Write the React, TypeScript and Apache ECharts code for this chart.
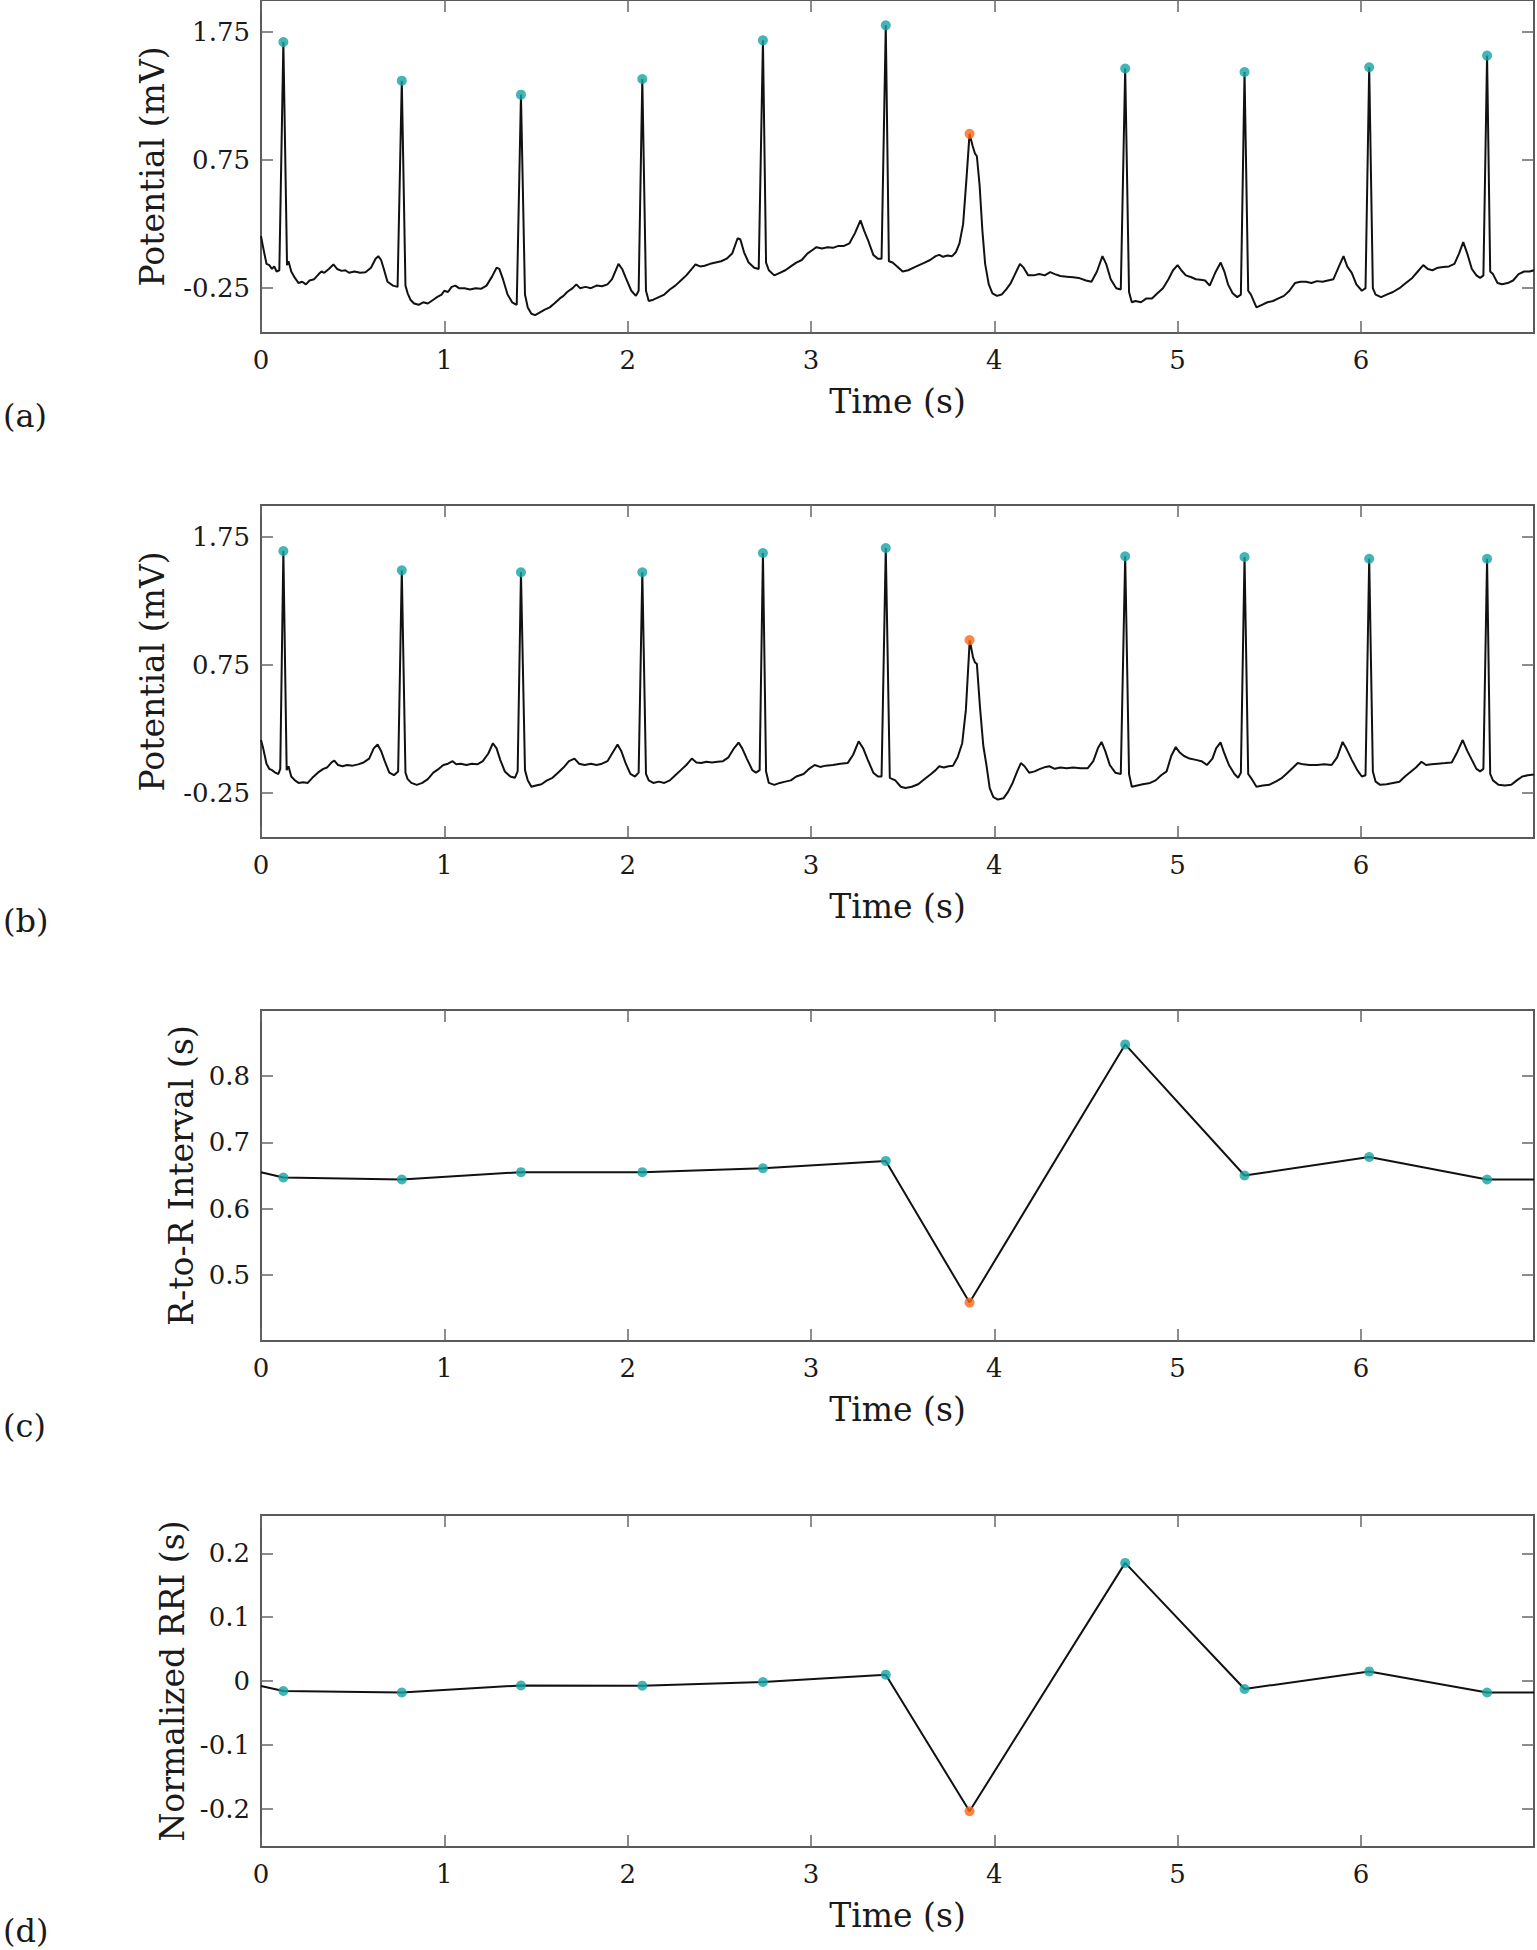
import React, { useEffect, useRef } from "react";
import * as echarts from "echarts";

// ---------- data ----------
const X_MAX = 6.944; // 2500 samples @ 360 Hz
const xTicks = [0, 1, 2, 3, 4, 5, 6];

// R-peak times (s); index 6 is the ectopic (orange) beat
const rTimes = [0.122, 0.768, 1.418, 2.08, 2.738, 3.408, 3.865, 4.714, 5.365, 6.045, 6.688];
const ectopicIdx = [6];

// R-peak amplitudes (mV)
const peaksA = [1.672, 1.37, 1.261, 1.383, 1.685, 1.802, 0.955, 1.465, 1.438, 1.475, 1.566];
const peaksB = [1.641, 1.49, 1.475, 1.475, 1.625, 1.664, 0.945, 1.6, 1.594, 1.58, 1.58];

// R-to-R intervals (s)
const rri = [0.647, 0.644, 0.655, 0.655, 0.661, 0.672, 0.458, 0.848, 0.65, 0.678, 0.644];
const rriStart = 0.655;
const rriEnd = 0.644;

// normalized RRI (s)
const nrri = [-0.0156, -0.018, -0.007, -0.0073, -0.0016, 0.0099, -0.204, 0.185, -0.0125, 0.015, -0.018];
const nrriStart = -0.0078;
const nrriEnd = -0.018;

// y tick values
const yTicksA = [-0.25, 0.75, 1.75];
const yTicksC = [0.5, 0.6, 0.7, 0.8];
const yTicksD = [-0.2, -0.1, 0, 0.1, 0.2];

// raw ECG (a) [time s, mV]
const ecgA: [number, number][] = [
  [0.0, 0.156], [0.01, 0.08], [0.03, -0.06], [0.045, -0.07], [0.06, -0.1], [0.072, -0.08], [0.085, -0.12], [0.1, -0.11],
  [0.122, 1.672], [0.142, -0.07], [0.15, -0.04], [0.165, -0.12], [0.185, -0.17], [0.205, -0.21], [0.225, -0.2], [0.245, -0.22],
  [0.265, -0.19], [0.29, -0.18], [0.315, -0.14], [0.33, -0.12], [0.345, -0.13], [0.37, -0.1], [0.395, -0.065], [0.415, -0.1],
  [0.44, -0.115], [0.46, -0.11], [0.48, -0.13], [0.51, -0.12], [0.54, -0.13], [0.57, -0.125], [0.6, -0.09], [0.625, -0.02],
  [0.64, 0.0], [0.655, -0.03], [0.67, -0.1], [0.69, -0.2], [0.72, -0.23], [0.745, -0.24],
  [0.768, 1.37], [0.788, -0.23], [0.8, -0.29], [0.815, -0.34], [0.835, -0.37], [0.86, -0.38], [0.885, -0.36], [0.91, -0.37],
  [0.94, -0.34], [0.96, -0.32], [0.985, -0.3], [1.0, -0.27], [1.02, -0.28], [1.04, -0.24], [1.06, -0.23], [1.08, -0.25],
  [1.11, -0.25], [1.14, -0.26], [1.17, -0.25], [1.2, -0.255], [1.23, -0.23], [1.26, -0.16], [1.285, -0.09], [1.3, -0.1],
  [1.32, -0.18], [1.345, -0.3], [1.37, -0.36], [1.395, -0.38],
  [1.418, 1.261], [1.44, -0.3], [1.455, -0.4], [1.475, -0.45], [1.495, -0.46], [1.52, -0.44], [1.545, -0.42], [1.575, -0.4],
  [1.6, -0.37], [1.63, -0.33], [1.65, -0.31], [1.67, -0.28], [1.7, -0.25], [1.72, -0.22], [1.74, -0.25], [1.77, -0.24],
  [1.8, -0.25], [1.83, -0.23], [1.86, -0.235], [1.89, -0.22], [1.915, -0.18], [1.95, -0.06], [1.97, -0.1], [1.99, -0.17],
  [2.02, -0.27], [2.045, -0.31], [2.06, -0.27],
  [2.08, 1.383], [2.1, -0.27], [2.115, -0.35], [2.14, -0.34], [2.17, -0.32], [2.2, -0.3], [2.23, -0.26], [2.26, -0.23],
  [2.29, -0.19], [2.32, -0.15], [2.35, -0.1], [2.37, -0.065], [2.395, -0.08], [2.42, -0.075], [2.45, -0.06], [2.48, -0.05],
  [2.51, -0.04], [2.54, -0.02], [2.57, 0.02], [2.6, 0.14], [2.615, 0.13], [2.635, 0.03], [2.66, -0.05], [2.69, -0.09], [2.715, -0.1],
  [2.738, 1.685], [2.755, -0.05], [2.77, -0.11], [2.8, -0.15], [2.83, -0.13], [2.86, -0.11], [2.89, -0.08], [2.92, -0.05],
  [2.95, -0.03], [2.98, 0.02], [3.01, 0.05], [3.03, 0.07], [3.06, 0.06], [3.09, 0.07], [3.12, 0.065], [3.15, 0.08],
  [3.18, 0.08], [3.21, 0.1], [3.24, 0.18], [3.27, 0.28], [3.29, 0.2], [3.31, 0.13], [3.34, 0.01], [3.365, -0.02], [3.385, -0.02],
  [3.408, 1.802], [3.425, -0.04], [3.445, -0.05], [3.47, -0.08], [3.5, -0.12], [3.53, -0.11], [3.56, -0.09], [3.59, -0.07],
  [3.62, -0.05], [3.65, -0.03], [3.68, 0.0], [3.7, 0.01], [3.72, -0.005], [3.745, 0.005], [3.77, 0.0], [3.79, 0.03],
  [3.81, 0.1], [3.83, 0.25], [3.848, 0.6], [3.865, 0.955], [3.882, 0.86], [3.895, 0.8], [3.905, 0.78], [3.92, 0.55],
  [3.935, 0.2], [3.95, -0.06], [3.97, -0.22], [3.99, -0.29], [4.015, -0.31], [4.04, -0.3], [4.065, -0.26], [4.09, -0.21],
  [4.11, -0.15], [4.14, -0.06], [4.16, -0.09], [4.185, -0.15], [4.215, -0.15], [4.245, -0.14], [4.275, -0.15], [4.305, -0.125],
  [4.33, -0.14], [4.36, -0.155], [4.395, -0.16], [4.43, -0.165], [4.46, -0.17], [4.5, -0.19], [4.53, -0.2], [4.56, -0.12],
  [4.59, 0.0], [4.61, -0.06], [4.635, -0.18], [4.665, -0.25], [4.69, -0.26],
  [4.714, 1.465], [4.735, -0.28], [4.75, -0.36], [4.77, -0.35], [4.8, -0.36], [4.83, -0.33], [4.86, -0.33], [4.89, -0.29],
  [4.92, -0.25], [4.95, -0.18], [4.975, -0.11], [5.0, -0.07], [5.02, -0.11], [5.045, -0.15], [5.075, -0.165], [5.1, -0.18],
  [5.125, -0.185], [5.15, -0.19], [5.175, -0.23], [5.205, -0.13], [5.235, -0.05], [5.255, -0.12], [5.275, -0.22], [5.3, -0.29],
  [5.325, -0.32], [5.345, -0.3],
  [5.365, 1.438], [5.385, -0.27], [5.4, -0.3], [5.43, -0.4], [5.46, -0.38], [5.49, -0.36], [5.52, -0.35], [5.55, -0.33],
  [5.58, -0.31], [5.61, -0.27], [5.64, -0.21], [5.67, -0.2], [5.7, -0.2], [5.73, -0.21], [5.76, -0.195], [5.79, -0.2],
  [5.82, -0.19], [5.85, -0.18], [5.88, -0.08], [5.905, 0.0], [5.925, -0.08], [5.95, -0.13], [5.975, -0.22], [6.005, -0.27], [6.025, -0.25],
  [6.045, 1.475], [6.065, -0.25], [6.08, -0.3], [6.11, -0.32], [6.14, -0.3], [6.175, -0.28], [6.21, -0.25], [6.245, -0.21],
  [6.28, -0.17], [6.31, -0.12], [6.34, -0.07], [6.365, -0.1], [6.39, -0.11], [6.42, -0.09], [6.45, -0.085], [6.48, -0.08],
  [6.51, -0.06], [6.535, 0.02], [6.558, 0.11], [6.58, 0.02], [6.605, -0.1], [6.63, -0.15], [6.65, -0.17], [6.668, -0.15],
  [6.688, 1.566], [6.705, -0.12], [6.72, -0.14], [6.745, -0.21], [6.77, -0.22], [6.8, -0.21], [6.83, -0.19], [6.86, -0.14],
  [6.89, -0.12], [6.92, -0.12], [6.944, -0.11],
];

// filtered ECG (b) [time s, mV]
const ecgB: [number, number][] = [
  [0.0, 0.166], [0.012, 0.1], [0.03, -0.02], [0.045, -0.06], [0.06, -0.07], [0.078, -0.09], [0.095, -0.1], [0.105, -0.06],
  [0.122, 1.641], [0.14, -0.07], [0.15, -0.04], [0.165, -0.12], [0.185, -0.15], [0.205, -0.17], [0.23, -0.165], [0.255, -0.17],
  [0.28, -0.13], [0.31, -0.09], [0.34, -0.06], [0.36, -0.05], [0.385, -0.01], [0.4, 0.005], [0.42, -0.03], [0.445, -0.04],
  [0.47, -0.03], [0.5, -0.035], [0.53, -0.025], [0.56, -0.01], [0.59, 0.02], [0.615, 0.1], [0.636, 0.13], [0.655, 0.08],
  [0.675, 0.0], [0.7, -0.09], [0.725, -0.11], [0.748, -0.08],
  [0.768, 1.49], [0.788, -0.09], [0.8, -0.14], [0.82, -0.17], [0.85, -0.185], [0.88, -0.17], [0.91, -0.14], [0.94, -0.09],
  [0.97, -0.06], [0.995, -0.03], [1.02, -0.02], [1.045, 0.0], [1.065, -0.025], [1.09, -0.02], [1.12, -0.03], [1.15, -0.02],
  [1.18, -0.025], [1.21, 0.0], [1.24, 0.06], [1.265, 0.14], [1.285, 0.1], [1.305, 0.01], [1.33, -0.08], [1.36, -0.12],
  [1.385, -0.13], [1.4, -0.08],
  [1.418, 1.475], [1.44, -0.07], [1.455, -0.15], [1.475, -0.2], [1.5, -0.19], [1.53, -0.18], [1.56, -0.15], [1.59, -0.13],
  [1.62, -0.09], [1.65, -0.05], [1.68, 0.0], [1.71, 0.02], [1.735, -0.02], [1.765, -0.03], [1.8, -0.02], [1.83, -0.03],
  [1.86, -0.02], [1.89, 0.0], [1.915, 0.06], [1.945, 0.13], [1.965, 0.08], [1.99, -0.02], [2.015, -0.1], [2.04, -0.12], [2.06, -0.09],
  [2.08, 1.475], [2.1, -0.1], [2.115, -0.15], [2.14, -0.17], [2.17, -0.16], [2.2, -0.17], [2.23, -0.15], [2.26, -0.11],
  [2.29, -0.07], [2.32, -0.03], [2.35, 0.02], [2.375, -0.01], [2.4, -0.015], [2.43, -0.005], [2.46, -0.01], [2.49, -0.005],
  [2.52, 0.0], [2.55, 0.03], [2.58, 0.1], [2.605, 0.145], [2.625, 0.1], [2.65, 0.02], [2.68, -0.07], [2.7, -0.09], [2.72, -0.07],
  [2.738, 1.625], [2.755, -0.08], [2.77, -0.17], [2.8, -0.185], [2.83, -0.17], [2.86, -0.16], [2.89, -0.15], [2.92, -0.12],
  [2.96, -0.1], [2.99, -0.06], [3.02, -0.03], [3.05, -0.045], [3.08, -0.035], [3.12, -0.03], [3.16, -0.02], [3.2, -0.015],
  [3.23, 0.05], [3.26, 0.155], [3.285, 0.1], [3.31, 0.01], [3.34, -0.09], [3.365, -0.12], [3.385, -0.12],
  [3.408, 1.664], [3.43, -0.13], [3.46, -0.15], [3.49, -0.2], [3.515, -0.21], [3.55, -0.2], [3.585, -0.18], [3.62, -0.14],
  [3.655, -0.1], [3.68, -0.07], [3.7, -0.04], [3.725, -0.05], [3.75, -0.04], [3.775, -0.035], [3.8, 0.03], [3.825, 0.14],
  [3.845, 0.4], [3.866, 0.945], [3.884, 0.81], [3.895, 0.77], [3.905, 0.76], [3.922, 0.42], [3.94, 0.12], [3.956, -0.02],
  [3.975, -0.21], [3.995, -0.28], [4.02, -0.3], [4.05, -0.29], [4.075, -0.24], [4.1, -0.17], [4.125, -0.08], [4.145, -0.015],
  [4.165, -0.04], [4.19, -0.09], [4.22, -0.08], [4.25, -0.06], [4.28, -0.045], [4.3, -0.04], [4.33, -0.06], [4.36, -0.05],
  [4.395, -0.055], [4.43, -0.05], [4.47, -0.055], [4.51, -0.055], [4.54, 0.0], [4.565, 0.1], [4.585, 0.15], [4.605, 0.08],
  [4.63, -0.03], [4.66, -0.09], [4.69, -0.1],
  [4.714, 1.6], [4.735, -0.1], [4.75, -0.2], [4.78, -0.19], [4.81, -0.18], [4.85, -0.17], [4.88, -0.15], [4.91, -0.11],
  [4.94, -0.08], [4.965, 0.04], [4.99, 0.11], [5.01, 0.07], [5.035, 0.04], [5.065, 0.02], [5.1, 0.01], [5.13, 0.0],
  [5.16, -0.03], [5.19, 0.02], [5.21, 0.1], [5.234, 0.146], [5.255, 0.06], [5.28, -0.03], [5.31, -0.1], [5.33, -0.13], [5.345, -0.09],
  [5.365, 1.594], [5.385, -0.1], [5.4, -0.13], [5.43, -0.2], [5.465, -0.19], [5.5, -0.185], [5.535, -0.16], [5.57, -0.13],
  [5.6, -0.09], [5.63, -0.05], [5.655, -0.015], [5.685, -0.025], [5.72, -0.03], [5.76, -0.03], [5.8, -0.025], [5.84, -0.03],
  [5.87, 0.03], [5.9, 0.15], [5.92, 0.1], [5.95, 0.01], [5.98, -0.07], [6.005, -0.12], [6.025, -0.11],
  [6.045, 1.58], [6.065, -0.08], [6.08, -0.16], [6.105, -0.185], [6.14, -0.18], [6.175, -0.17], [6.21, -0.16], [6.24, -0.12],
  [6.265, -0.09], [6.3, -0.05], [6.33, -0.005], [6.355, -0.03], [6.385, -0.025], [6.42, -0.02], [6.46, -0.015], [6.495, -0.01],
  [6.525, 0.07], [6.555, 0.165], [6.58, 0.08], [6.605, 0.01], [6.63, -0.06], [6.65, -0.08], [6.668, -0.06],
  [6.688, 1.58], [6.705, -0.1], [6.72, -0.15], [6.75, -0.185], [6.785, -0.19], [6.82, -0.185], [6.85, -0.15], [6.88, -0.12],
  [6.91, -0.11], [6.944, -0.105],
];

const panelLetters = ["(a)", "(b)", "(c)", "(d)"];
const yTitles = ["Potential (mV)", "Potential (mV)", "R-to-R Interval (s)", "Normalized RRI (s)"];
const xTitle = "Time (s)";

// ---------- styling / layout ----------
const FONT = "DejaVu Serif";
const TEAL = "#14a3a3";
const ORANGE = "#ff6616";
const FRAME = "#5a5a5a";
const TEXT = "#1a1a1a";
const GRID_LEFT = 261;
const GRID_WIDTH = 1273;
const GRID_TOPS = [0, 505, 1010, 1515];
const GRID_HEIGHTS = [333, 333, 331, 332];
const Y_NAME_GAPS = [92, 92, 60, 72];
const Y_RANGES: [number, number][] = [[-0.6, 2.0], [-0.6, 2.0], [0.4, 0.9], [-0.26, 0.26]];
const Y_TICKS = [yTicksA, yTicksA, yTicksC, yTicksD];
const Y_FMT = [
  (v: number) => v.toFixed(2),
  (v: number) => v.toFixed(2),
  (v: number) => v.toFixed(1),
  (v: number) => (Math.abs(v) < 1e-9 ? "0" : v.toFixed(1)),
];

function buildOption() {
  const grid: any[] = [];
  const xAxis: any[] = [];
  const yAxis: any[] = [];
  const series: any[] = [];
  const graphic: any[] = [];

  const tickStyle = { color: "#666", width: 1.5 };
  const noLine = { show: false, onZero: false };

  for (let i = 0; i < 4; i++) {
    grid.push({
      left: GRID_LEFT,
      width: GRID_WIDTH,
      top: GRID_TOPS[i],
      height: GRID_HEIGHTS[i],
      show: true,
      borderColor: FRAME,
      borderWidth: 2,
      backgroundColor: "transparent",
    });
    xAxis.push({
      type: "value",
      gridIndex: i,
      position: "bottom",
      min: 0,
      max: X_MAX,
      axisLine: noLine,
      splitLine: { show: false },
      axisTick: { inside: true, length: 12, lineStyle: tickStyle, customValues: xTicks },
      axisLabel: {
        customValues: xTicks,
        fontFamily: FONT,
        fontSize: 26,
        color: TEXT,
        margin: 14,
        formatter: (v: number) => String(v),
      },
      name: xTitle,
      nameLocation: "middle",
      nameGap: 52,
      nameTextStyle: { fontFamily: FONT, fontSize: 33, color: TEXT },
    });
    xAxis.push({
      type: "value",
      gridIndex: i,
      position: "top",
      min: 0,
      max: X_MAX,
      axisLine: noLine,
      splitLine: { show: false },
      axisTick: { inside: true, length: 12, lineStyle: tickStyle, customValues: xTicks },
      axisLabel: { show: false },
    });
    yAxis.push({
      type: "value",
      gridIndex: i,
      position: "left",
      min: Y_RANGES[i][0],
      max: Y_RANGES[i][1],
      axisLine: noLine,
      splitLine: { show: false },
      axisTick: { inside: true, length: 12, lineStyle: tickStyle, customValues: Y_TICKS[i] },
      axisLabel: {
        customValues: Y_TICKS[i],
        fontFamily: FONT,
        fontSize: 26,
        color: TEXT,
        margin: 11,
        formatter: Y_FMT[i],
      },
      name: yTitles[i],
      nameLocation: "middle",
      nameGap: Y_NAME_GAPS[i],
      nameRotate: 90,
      nameTextStyle: { fontFamily: FONT, fontSize: 33, color: TEXT },
    });
    yAxis.push({
      type: "value",
      gridIndex: i,
      position: "right",
      min: Y_RANGES[i][0],
      max: Y_RANGES[i][1],
      axisLine: noLine,
      splitLine: { show: false },
      axisTick: { inside: true, length: 12, lineStyle: tickStyle, customValues: Y_TICKS[i] },
      axisLabel: { show: false },
    });

    graphic.push({
      type: "text",
      x: 3,
      y: GRID_TOPS[i] + 416,
      style: {
        text: panelLetters[i],
        fontFamily: FONT,
        fontSize: 32,
        fill: TEXT,
        align: "left",
        verticalAlign: "middle",
      },
    });
  }

  const lineStyle = { color: "#111", width: 2 };
  const traces: [number, number][][] = [
    ecgA,
    ecgB,
    [[0, rriStart], ...rTimes.map((t, k) => [t, rri[k]] as [number, number]), [X_MAX, rriEnd]],
    [[0, nrriStart], ...rTimes.map((t, k) => [t, nrri[k]] as [number, number]), [X_MAX, nrriEnd]],
  ];
  const markerVals = [peaksA, peaksB, rri, nrri];

  for (let i = 0; i < 4; i++) {
    series.push({
      type: "line",
      xAxisIndex: 2 * i,
      yAxisIndex: 2 * i,
      data: traces[i],
      showSymbol: false,
      symbol: "none",
      lineStyle,
      silent: true,
      z: 2,
    });
    const normal: [number, number][] = [];
    const ectopic: [number, number][] = [];
    rTimes.forEach((t, k) => {
      (ectopicIdx.includes(k) ? ectopic : normal).push([t, markerVals[i][k]]);
    });
    series.push({
      type: "scatter",
      xAxisIndex: 2 * i,
      yAxisIndex: 2 * i,
      data: normal,
      symbol: "circle",
      symbolSize: 10,
      itemStyle: { color: TEAL },
      z: 3,
    });
    series.push({
      type: "scatter",
      xAxisIndex: 2 * i,
      yAxisIndex: 2 * i,
      data: ectopic,
      symbol: "circle",
      symbolSize: 10,
      itemStyle: { color: ORANGE },
      z: 3,
    });
  }

  return {
    animation: false,
    backgroundColor: "#ffffff",
    grid,
    xAxis,
    yAxis,
    series,
    graphic,
  };
}

export default function App() {
  const ref = useRef<HTMLDivElement>(null);
  useEffect(() => {
    if (!ref.current) return;
    const chart = echarts.init(ref.current, undefined, { renderer: "svg" });
    chart.setOption(buildOption() as any);
    return () => chart.dispose();
  }, []);
  return (
    <div
      ref={ref}
      style={{ position: "absolute", left: 0, top: 0, width: 1537, height: 1950, background: "#fff" }}
    />
  );
}
